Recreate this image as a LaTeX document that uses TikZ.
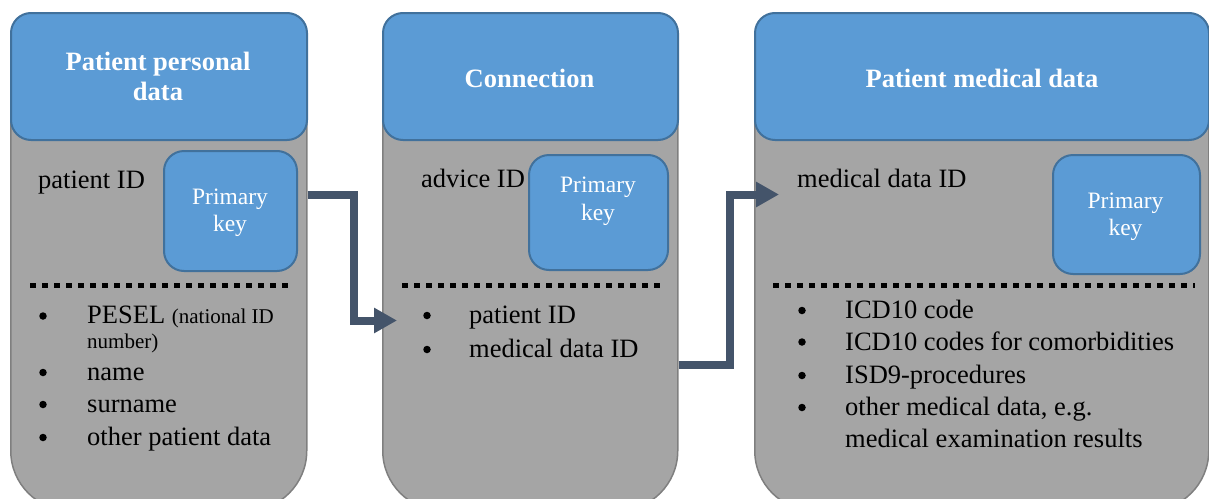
\documentclass[tikz,border=0pt]{standalone}
\usepackage{fontspec}
\setmainfont{Liberation Serif}
\usetikzlibrary{arrows.meta}
\definecolor{hdrblue}{HTML}{5B9BD5}
\definecolor{hdrline}{HTML}{41719C}
\definecolor{bodygray}{HTML}{A5A5A5}
\definecolor{bodyline}{HTML}{7F7F7F}
\definecolor{conncol}{HTML}{44546A}
\begin{document}
\begin{tikzpicture}[x=1pt,y=-1pt,
  panelbody/.style={draw=bodyline, line width=1.5pt, fill=bodygray, rounded corners=60pt, inner sep=0pt, anchor=north west, minimum height=498pt},
  panelhead/.style={draw=hdrline, line width=2pt, fill=hdrblue, rounded corners=20pt, inner sep=0pt, anchor=north west, minimum height=127pt},
  keybox/.style={draw=hdrline, line width=2pt, fill=hdrblue, rounded corners=20pt, inner sep=0pt, anchor=north west},
  hdrtext/.style={font=\fontsize{26.5}{30}\selectfont\bfseries, text=white, anchor=base, inner sep=0pt},
  bodytext/.style={font=\fontsize{26.5}{32}\selectfont, anchor=base west, inner sep=0pt},
  smalltext/.style={font=\fontsize{21}{25}\selectfont, anchor=base west, inner sep=0pt},
  bul/.style={circle, fill=black, inner sep=0pt, minimum size=7.5pt},
  keytext/.style={font=\fontsize{23.5}{27}\selectfont, text=white, anchor=base, inner sep=0pt},
  dotline/.style={line width=5pt, dash pattern=on 5.5pt off 6.5pt},
  conn/.style={draw=conncol, line width=8pt, -{Triangle[length=23pt,width=24pt]}}
]
\useasboundingbox (0,0) rectangle (1209,498);
\clip (0,0) rectangle (1209,498);

% panel bodies
\node[panelbody, minimum width=296pt] (body1) at (10,12) {};
\node[panelbody, minimum width=295pt] (body2) at (382,12) {};
\node[panelbody, minimum width=454pt] (body3) at (754,12) {};

% headers
\node[panelhead, minimum width=296pt] (head1) at (10,12) {};
\node[panelhead, minimum width=295pt] (head2) at (382,12) {};
\node[panelhead, minimum width=454pt] (head3) at (754,12) {};

\node[hdrtext] (h1a) at (158,70) {Patient personal};
\node[hdrtext] (h1b) at (158,100) {data};
\node[hdrtext] (h2) at (529.5,87) {Connection};
\node[hdrtext] (h3) at (982,87) {Patient medical data};

% primary key boxes
\node[keybox, minimum width=133pt, minimum height=120pt] (key1) at (163,150) {};
\node[keybox, minimum width=139pt, minimum height=115pt] (key2) at (528,154) {};
\node[keybox, minimum width=147pt, minimum height=119pt] (key3) at (1052,154) {};

\node[keytext] (k1a) at (230,204) {Primary};
\node[keytext] (k1b) at (230,231) {key};
\node[keytext] (k2a) at (598,192) {Primary};
\node[keytext] (k2b) at (598,220) {key};
\node[keytext] (k3a) at (1125.5,208) {Primary};
\node[keytext] (k3b) at (1125.5,235) {key};

% ID labels
\node[bodytext] (id1) at (38,188) {patient ID};
\node[bodytext] (id2) at (421,187) {advice ID};
\node[bodytext] (id3) at (797,187) {medical data ID};

% dotted separators
\draw[dotline] (30,285) -- (293.5,285);
\draw[dotline] (402,285) -- (665.5,285);
\draw[dotline] (773,285) -- (1195,285);

% list panel 1
\node[bul] (b1a) at (43,316) {};
\node[bodytext] (t1a) at (87,323) {PESEL {\fontsize{21}{25}\selectfont (national ID}};
\node[smalltext] (t1a2) at (87,348) {number)};
\node[bul] (b1b) at (43,372.5) {};
\node[bodytext] (t1b) at (87,380) {name};
\node[bul] (b1c) at (43,404.5) {};
\node[bodytext] (t1c) at (87,412) {surname};
\node[bul] (b1d) at (43,437.5) {};
\node[bodytext] (t1d) at (87,445) {other patient data};

% list panel 2
\node[bul] (b2a) at (427,315.5) {};
\node[bodytext] (t2a) at (469,323) {patient ID};
\node[bul] (b2b) at (427,349.5) {};
\node[bodytext] (t2b) at (469,357) {medical data ID};

% list panel 3
\node[bul] (b3a) at (802,310.5) {};
\node[bodytext] (t3a) at (845,318) {ICD10 code};
\node[bul] (b3b) at (802,342) {};
\node[bodytext] (t3b) at (845,350) {ICD10 codes for comorbidities};
\node[bul] (b3c) at (802,375.5) {};
\node[bodytext] (t3c) at (845,383) {ISD9-procedures};
\node[bul] (b3d) at (802,407.5) {};
\node[bodytext] (t3d) at (845,415) {other medical data, e.g.};
\node[bodytext] (t3d2) at (845,447) {medical examination results};

% connectors
\draw[conn] (body1.east |- 0,194.5) -- ++(46,0) |- ([xshift=15pt]body2.west |- 0,320.5);
\draw[conn] (body2.east |- 0,365) -- ++(51.5,0) |- ([xshift=25pt]body3.west |- 0,194.5);
\end{tikzpicture}
\end{document}
